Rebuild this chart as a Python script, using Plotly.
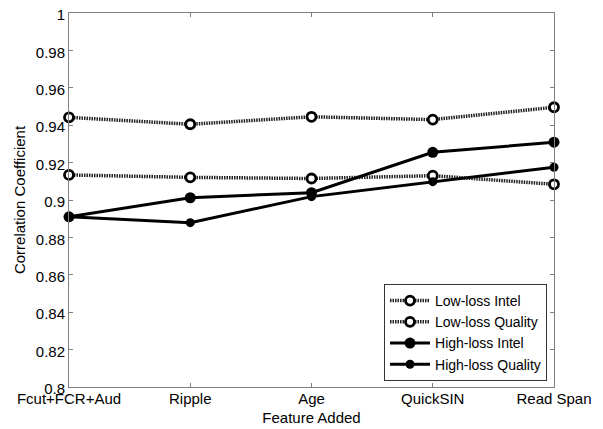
import plotly.graph_objects as go

categories = ["Fcut+FCR+Aud", "Ripple", "Age", "QuickSIN", "Read Span"]
low_intel = [0.9134, 0.9121, 0.9115, 0.9130, 0.9084]
low_quality = [0.9442, 0.9405, 0.9445, 0.9430, 0.9496]
high_intel = [0.8910, 0.9012, 0.9039, 0.9255, 0.9309]
high_quality = [0.8910, 0.8879, 0.9018, 0.9098, 0.9175]
y_ticks = [0.8, 0.82, 0.84, 0.86, 0.88, 0.9, 0.92, 0.94, 0.96, 0.98, 1]

FONT = "Liberation Sans, Arial, sans-serif"

fig = go.Figure()
fig.add_trace(go.Scatter(
    x=categories, y=low_intel, name="Low-loss Intel", mode="lines+markers",
    line=dict(color="#222222", width=3.5, dash="1.5px,1px"),
    marker=dict(symbol="circle", size=9, color="white", line=dict(color="black", width=2.8)),
    cliponaxis=False))
fig.add_trace(go.Scatter(
    x=categories, y=low_quality, name="Low-loss Quality", mode="lines+markers",
    line=dict(color="#222222", width=3.5, dash="1.5px,1px"),
    marker=dict(symbol="circle", size=9, color="white", line=dict(color="black", width=2.8)),
    cliponaxis=False))
fig.add_trace(go.Scatter(
    x=categories, y=high_intel, name="High-loss Intel", mode="lines+markers",
    line=dict(color="black", width=3),
    marker=dict(symbol="circle", size=11, color="black"),
    cliponaxis=False))
fig.add_trace(go.Scatter(
    x=categories, y=high_quality, name="High-loss Quality", mode="lines+markers",
    line=dict(color="black", width=3),
    marker=dict(symbol="circle", size=9, color="black"),
    cliponaxis=False))

axis_common = dict(showline=True, linecolor="#808080", linewidth=1, mirror="ticks",
                   ticks="inside", ticklen=4, tickcolor="#808080", showgrid=False,
                   zeroline=False, automargin=False,
                   tickfont=dict(family=FONT, size=15, color="black"))

fig.update_layout(
    width=603, height=429,
    margin=dict(l=69, r=49, t=13, b=42),
    paper_bgcolor="white", plot_bgcolor="white",
    font=dict(family=FONT, size=15, color="black"),
    showlegend=True,
    legend=dict(x=0.9856, y=0.016, xanchor="right", yanchor="bottom",
                bordercolor="#333333", borderwidth=1, bgcolor="white",
                font=dict(family=FONT, size=14, color="black"),
                tracegroupgap=0, itemwidth=40),
    xaxis=dict(range=[0, 4], ticklabelstandoff=-2,
               title=dict(text="Feature Added", standoff=6, font=dict(family=FONT, size=15)),
               **axis_common),
    yaxis=dict(range=[0.8, 1], tickvals=y_ticks, ticklabelshift=2,
               title=dict(text="Correlation Coefficient", standoff=6, font=dict(family=FONT, size=15)),
               **axis_common),
)

fig.write_html("out.html")
